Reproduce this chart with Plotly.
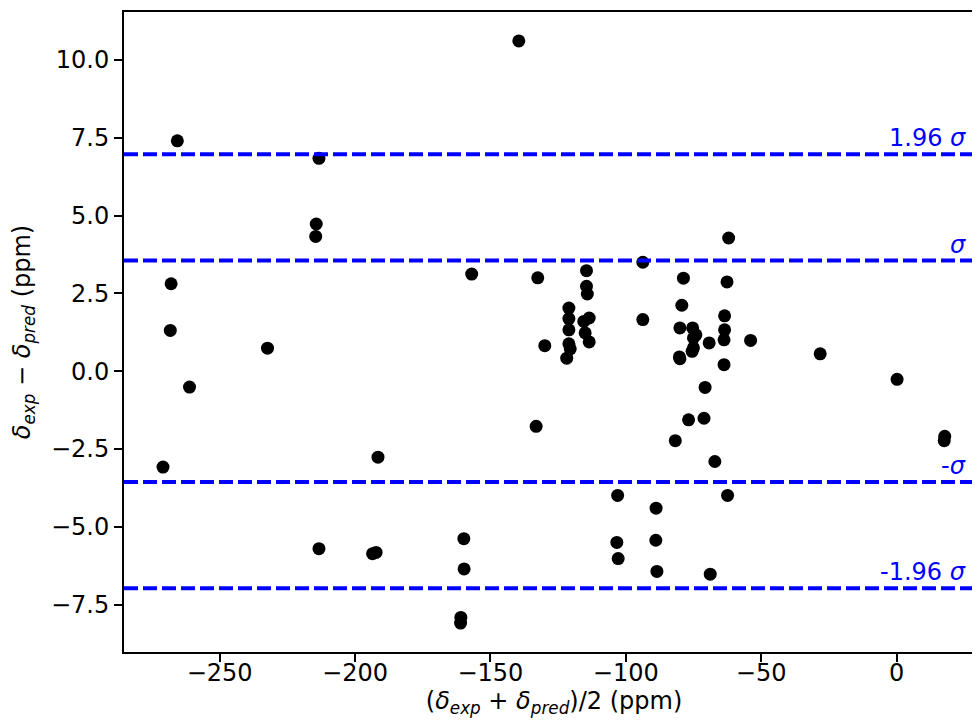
import plotly.graph_objects as go

# Valores (media y diferencia de desplazamientos)
media_ppm = [
    -139.5, -265.6, -213.3, -214.3, -214.5, -267.9, -156.9, -132.5, -268.2, -232.3,
    -129.9, -261.1, -270.9, -191.5, -133.1, -213.3, -193.5, -192.2, -159.8, -159.7,
    -160.9, -161.0,
    -121.0, -121.0, -121.0, -121.0, -120.5, -121.8, -114.5, -114.5, -114.2, -113.5,
    -115.5, -115.0, -113.5, -93.7, -93.7,
    -78.7, -79.3, -80.0, -80.2, -80.0, -75.3, -74.1, -75.0, -75.5, -75.0,
    -69.2, -62.6, -62.0, -63.5, -63.5, -63.7, -63.7, -53.9,
    -70.7, -76.8, -71.1, -81.7, -67.1, -103.0, -62.4, -88.8, -103.3, -102.8,
    -88.9, -88.5, -68.8, -28.2, 0.2, 17.8, 17.6,
]
diferencia_ppm = [
    10.61, 7.40, 6.84, 4.73, 4.33, 2.81, 3.12, 3.00, 1.31, 0.74,
    0.82, -0.51, -3.08, -2.76, -1.77, -5.70, -5.86, -5.82, -5.38, -6.35,
    -7.91, -8.09,
    2.03, 1.69, 1.33, 0.88, 0.72, 0.42, 3.23, 2.73, 2.48, 1.71,
    1.60, 1.23, 0.94, 3.50, 1.66,
    2.99, 2.12, 1.39, 0.46, 0.40, 1.39, 1.17, 1.07, 0.64, 0.75,
    0.91, 2.87, 4.28, 1.78, 1.33, 1.01, 0.21, 0.99,
    -0.52, -1.56, -1.51, -2.23, -2.90, -3.99, -3.99, -4.40, -5.50, -6.02,
    -5.43, -6.43, -6.52, 0.56, -0.26, -2.09, -2.23,
]

# Lineas de referencia
niveles = [6.97, 3.556, -3.556, -6.97]
etiquetas = ["1.96 <i>σ</i>", "<i>σ</i>", "-<i>σ</i>", "-1.96 <i>σ</i>"]

FUENTE = dict(family="DejaVu Sans", size=24, color="black")
AZUL = "#0000ff"

fig = go.Figure()

for nivel in niveles:
    fig.add_shape(type="line", xref="paper", x0=0, x1=1, yref="y", y0=nivel, y1=nivel,
                  line=dict(color=AZUL, width=4, dash="14px,5px"))

fig.add_trace(go.Scatter(x=media_ppm, y=diferencia_ppm, mode="markers",
                         marker=dict(color="black", size=13, line=dict(width=0)),
                         showlegend=False))

for nivel, texto in zip(niveles, etiquetas):
    fig.add_annotation(x=26.4, y=nivel, xref="x", yref="y", text=texto, showarrow=False,
                       xanchor="right", yanchor="bottom", yshift=0,
                       font=dict(family="DejaVu Sans", size=24, color=AZUL))

ejes = dict(showgrid=False, zeroline=False, showline=True, linecolor="black", linewidth=2,
            mirror=True, ticks="outside", ticklen=8, tickwidth=2, tickcolor="black",
            tickfont=FUENTE)

fig.update_xaxes(range=[-285.3, 32.3], tickvals=[-250, -200, -150, -100, -50, 0],
                 ticklabelstandoff=-10,
                 title=dict(text="(<i>δ</i><sub><i>exp</i></sub> + <i>δ</i><sub><i>pred</i></sub>)/2 (ppm)",
                            font=FUENTE, standoff=2),
                 **ejes)
fig.update_yaxes(range=[-9.02, 11.54], tickvals=[-7.5, -5.0, -2.5, 0.0, 2.5, 5.0, 7.5, 10.0],
                 tickformat=".1f",
                 title=dict(text="<i>δ</i><sub><i>exp</i></sub> − <i>δ</i><sub><i>pred</i></sub> (ppm)",
                            font=FUENTE, standoff=16),
                 **ejes)

fig.update_layout(width=980, height=723, margin=dict(l=116, r=4, t=4, b=79, autoexpand=False),
                  plot_bgcolor="white", paper_bgcolor="white", font=FUENTE)

fig.write_html("out.html")
